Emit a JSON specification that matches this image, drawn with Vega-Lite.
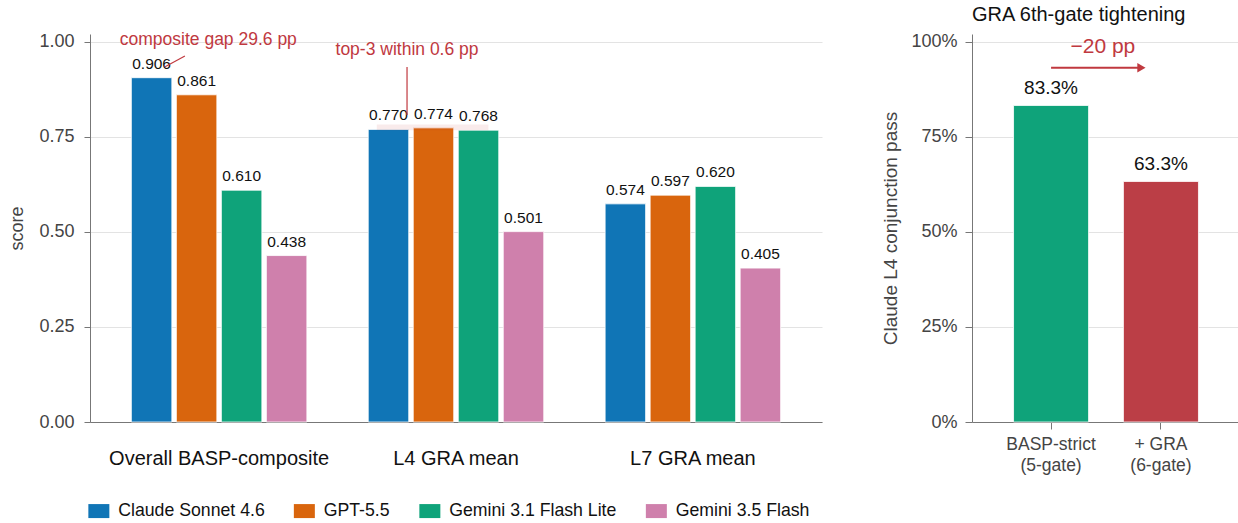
{
  "$schema": "https://vega.github.io/schema/vega-lite/v6.json",
  "background": "white",
  "padding": {"left": 8, "top": 4, "right": 0, "bottom": 2},
  "bounds": "flush",
  "spacing": 150,
  "config": {
    "font": "Liberation Sans",
    "view": {"stroke": null},
    "axis": {
      "domainColor": "#777777",
      "tickColor": "#777777",
      "gridColor": "#e3e3e3",
      "labelColor": "#444444",
      "titleColor": "#444444",
      "titleFontWeight": "normal"
    }
  },
  "resolve": {"scale": {"color": "independent"}},
  "hconcat": [
    {
      "width": 732,
      "height": 388,
      "data": {
        "values": [
          {"group": "Overall BASP-composite", "model": "Claude Sonnet 4.6", "score": 0.906},
          {"group": "Overall BASP-composite", "model": "GPT-5.5", "score": 0.861},
          {"group": "Overall BASP-composite", "model": "Gemini 3.1 Flash Lite", "score": 0.610},
          {"group": "Overall BASP-composite", "model": "Gemini 3.5 Flash", "score": 0.438},
          {"group": "L4 GRA mean", "model": "Claude Sonnet 4.6", "score": 0.770},
          {"group": "L4 GRA mean", "model": "GPT-5.5", "score": 0.774},
          {"group": "L4 GRA mean", "model": "Gemini 3.1 Flash Lite", "score": 0.768},
          {"group": "L4 GRA mean", "model": "Gemini 3.5 Flash", "score": 0.501},
          {"group": "L7 GRA mean", "model": "Claude Sonnet 4.6", "score": 0.574},
          {"group": "L7 GRA mean", "model": "GPT-5.5", "score": 0.597},
          {"group": "L7 GRA mean", "model": "Gemini 3.1 Flash Lite", "score": 0.620},
          {"group": "L7 GRA mean", "model": "Gemini 3.5 Flash", "score": 0.405}
        ]
      },
      "layer": [
        {
          "mark": {"type": "bar", "stroke": "white", "strokeWidth": 0.8},
          "encoding": {
            "x": {
              "field": "group", "type": "nominal",
              "scale": {"domain": ["Overall BASP-composite", "L4 GRA mean", "L7 GRA mean"], "paddingInner": 0.24, "paddingOuter": 0.165},
              "axis": {"title": null, "labelAngle": 0, "ticks": false, "bandPosition": 0.5, "labelAlign": "center", "labelLimit": 400, "labelFontSize": 20, "labelColor": "#111111", "labelPadding": 26, "grid": false}
            },
            "xOffset": {
              "field": "model", "type": "nominal",
              "scale": {"domain": ["Claude Sonnet 4.6", "GPT-5.5", "Gemini 3.1 Flash Lite", "Gemini 3.5 Flash"], "paddingInner": 0.1, "paddingOuter": 0.05}
            },
            "y": {
              "field": "score", "type": "quantitative",
              "scale": {"domain": [0, 1.021], "nice": false},
              "axis": {"title": "score", "titleFontSize": 18, "titlePadding": 12, "values": [0, 0.25, 0.5, 0.75, 1.0], "format": ".2f", "labelFontSize": 18, "tickSize": 6, "labelPadding": 10, "grid": true}
            },
            "color": {
              "field": "model", "type": "nominal",
              "scale": {"domain": ["Claude Sonnet 4.6", "GPT-5.5", "Gemini 3.1 Flash Lite", "Gemini 3.5 Flash"], "range": ["#1075b6", "#d9650d", "#0fa37a", "#cf80ac"]},
              "legend": {"title": null, "orient": "bottom", "direction": "horizontal", "symbolType": "M-1.5,-1H1.5V1H-1.5Z", "symbolSize": 196, "symbolStrokeWidth": 0, "labelFontSize": 17.7, "labelLimit": 400, "labelColor": "#111111", "labelOffset": 10.5, "columnPadding": 28.5, "offset": 34}
            }
          }
        },
        {
          "data": {"values": [{"group": "L4 GRA mean", "lo": 0.768, "hi": 0.783}]},
          "mark": {"type": "rect", "color": "#c0393f", "opacity": 0.1},
          "encoding": {
            "x": {"field": "group", "type": "nominal", "bandPosition": 0.06},
            "x2": {"field": "group", "bandPosition": 0.68},
            "y": {"field": "lo", "type": "quantitative"},
            "y2": {"field": "hi"}
          }
        },
        {
          "mark": {"type": "text", "baseline": "bottom", "dy": -6, "fontSize": 15.5, "color": "#111111"},
          "encoding": {
            "x": {"field": "group", "type": "nominal"},
            "xOffset": {"field": "model", "type": "nominal"},
            "y": {"field": "score", "type": "quantitative"},
            "text": {"field": "score", "type": "quantitative", "format": ".3f"}
          }
        },
        {
          "data": {"values": [{"group": "Overall BASP-composite", "y1": 0.935, "y2": 0.963}]},
          "mark": {"type": "rule", "color": "#c0393f", "strokeWidth": 1.2},
          "encoding": {
            "x": {"field": "group", "type": "nominal", "bandPosition": 0.2},
            "x2": {"field": "group", "bandPosition": 0.31},
            "y": {"field": "y1", "type": "quantitative"},
            "y2": {"field": "y2"}
          }
        },
        {
          "data": {"values": [{"group": "L4 GRA mean", "y1": 0.808, "y2": 0.934}]},
          "mark": {"type": "rule", "color": "#c0393f", "strokeWidth": 1.2},
          "encoding": {
            "x": {"field": "group", "type": "nominal", "bandPosition": 0.228},
            "y": {"field": "y1", "type": "quantitative"},
            "y2": {"field": "y2"}
          }
        },
        {
          "data": {"values": [{"group": "Overall BASP-composite", "note": "composite gap 29.6 pp", "pos": 1.005}]},
          "mark": {"type": "text", "color": "#c0393f", "fontSize": 17.5, "baseline": "middle"},
          "encoding": {
            "x": {"field": "group", "type": "nominal", "bandPosition": 0.44},
            "y": {"field": "pos", "type": "quantitative"},
            "text": {"field": "note"}
          }
        },
        {
          "data": {"values": [{"group": "L4 GRA mean", "note": "top-3 within 0.6 pp", "pos": 0.979}]},
          "mark": {"type": "text", "color": "#c0393f", "fontSize": 17.5, "baseline": "middle"},
          "encoding": {
            "x": {"field": "group", "type": "nominal", "bandPosition": 0.228},
            "y": {"field": "pos", "type": "quantitative"},
            "text": {"field": "note"}
          }
        }
      ]
    },
    {
      "width": 268,
      "height": 388,
      "title": {"text": "GRA 6th-gate tightening", "anchor": "start", "frame": "group", "fontSize": 20, "fontWeight": "normal", "color": "#111111", "offset": 8},
      "data": {
        "values": [
          {"gate": "BASP-strict\n(5-gate)", "pass": 0.833},
          {"gate": "+ GRA\n(6-gate)", "pass": 0.633}
        ]
      },
      "layer": [
        {
          "mark": {"type": "bar", "stroke": "white", "strokeWidth": 0.8},
          "encoding": {
            "x": {
              "field": "gate", "type": "nominal",
              "scale": {"domain": ["BASP-strict\n(5-gate)", "+ GRA\n(6-gate)"], "paddingInner": 0.317, "paddingOuter": 0.378},
              "axis": {"title": null, "labelAngle": 0, "bandPosition": 0.5, "labelFontSize": 17.5, "labelColor": "#444444", "tickSize": 7, "labelPadding": 6, "labelLineHeight": 21, "labelExpr": "split(datum.label, '\\n')", "grid": false}
            },
            "y": {
              "field": "pass", "type": "quantitative",
              "scale": {"domain": [0, 1.021], "nice": false},
              "axis": {"title": "Claude L4 conjunction pass", "titleFontSize": 19, "titlePadding": 10, "values": [0, 0.25, 0.5, 0.75, 1.0], "format": ".0%", "labelFontSize": 18, "tickSize": 7, "labelPadding": 8, "grid": true}
            },
            "color": {
              "field": "gate", "type": "nominal",
              "scale": {"domain": ["BASP-strict\n(5-gate)", "+ GRA\n(6-gate)"], "range": ["#0fa37a", "#bb3e46"]},
              "legend": null
            }
          }
        },
        {
          "mark": {"type": "text", "baseline": "bottom", "dy": -7, "fontSize": 19, "color": "#111111"},
          "encoding": {
            "x": {"field": "gate", "type": "nominal"},
            "y": {"field": "pass", "type": "quantitative"},
            "text": {"field": "pass", "type": "quantitative", "format": ".1%"}
          }
        },
        {
          "data": {"values": [{"from": "BASP-strict\n(5-gate)", "to": "+ GRA\n(6-gate)", "level": 0.932, "tlevel": 0.987, "note": "\u221220 pp"}]},
          "layer": [
            {
              "mark": {"type": "rule", "color": "#c0393f", "strokeWidth": 2},
              "encoding": {
                "x": {"field": "from", "type": "nominal", "bandPosition": 0.5},
                "x2": {"field": "to", "bandPosition": 0.2},
                "y": {"field": "level", "type": "quantitative"}
              }
            },
            {
              "mark": {"type": "point", "shape": "triangle-right", "filled": true, "color": "#c0393f", "size": 90, "opacity": 1},
              "encoding": {
                "x": {"field": "to", "type": "nominal", "bandPosition": 0.24},
                "y": {"field": "level", "type": "quantitative"}
              }
            },
            {
              "mark": {"type": "text", "color": "#c0393f", "fontSize": 21, "baseline": "middle"},
              "encoding": {
                "x": {"field": "from", "type": "nominal", "bandPosition": 1.19},
                "y": {"field": "tlevel", "type": "quantitative"},
                "text": {"field": "note"}
              }
            }
          ]
        }
      ]
    }
  ]
}
